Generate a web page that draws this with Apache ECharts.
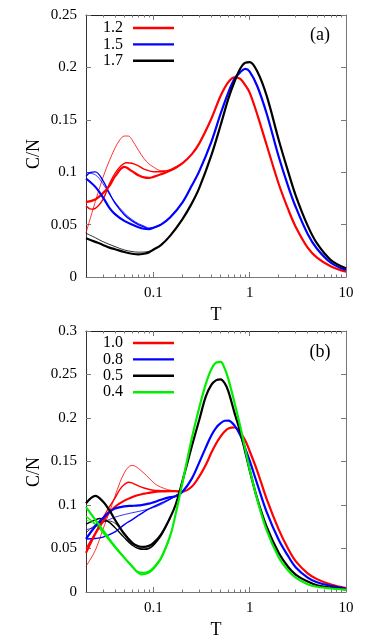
<!DOCTYPE html>
<html>
<head>
<meta charset="utf-8">
<script src="https://cdn.jsdelivr.net/npm/echarts@6/dist/echarts.min.js"></script>
<style>
  html, body { margin: 0; padding: 0; background: #fff; }
  #main { width: 374px; height: 642px; }
</style>
</head>
<body>
<div id="main"></div>
<script>
// ---- panel (a) ----
const Ta = [0.02, 0.025, 0.03, 0.035, 0.04, 0.05, 0.06, 0.07, 0.08, 0.09, 0.1, 0.12, 0.15, 0.2, 0.25, 0.3,
  0.4, 0.5, 0.6, 0.7, 0.8, 0.9, 1, 1.2, 1.5, 2, 2.5, 3, 4, 5, 7, 10]
const a12 = [0.0715, 0.074, 0.080, 0.087, 0.096, 0.105, 0.101, 0.097, 0.095, 0.0945, 0.0955, 0.098, 0.1015, 0.1085, 0.117, 0.1275,
  0.151, 0.173, 0.186, 0.1905, 0.189, 0.183, 0.176, 0.155, 0.126, 0.089, 0.065, 0.048, 0.028, 0.0185, 0.010, 0.005]
const a15 = [0.094, 0.086, 0.076, 0.066, 0.060, 0.0535, 0.050, 0.0475, 0.046, 0.0457, 0.047, 0.050, 0.057, 0.071, 0.087, 0.101,
  0.129, 0.156, 0.176, 0.1895, 0.1955, 0.1985, 0.196, 0.182, 0.156, 0.115, 0.087, 0.067, 0.041, 0.027, 0.0135, 0.0067]
const a17 = [0.037, 0.0335, 0.0306, 0.028, 0.0265, 0.0238, 0.0222, 0.0215, 0.0222, 0.0235, 0.026, 0.0305, 0.0395, 0.055, 0.070, 0.085,
  0.116, 0.145, 0.170, 0.187, 0.199, 0.2045, 0.205, 0.196, 0.173, 0.131, 0.101, 0.078, 0.049, 0.032, 0.016, 0.0083]

// thinner curves (a)
const Ta12m = [0.02, 0.0225, 0.025, 0.03, 0.035, 0.04, 0.045, 0.0525, 0.06, 0.07, 0.08, 0.1, 0.12, 0.15, 0.2]
const a12m = [0.068, 0.0648, 0.0655, 0.074, 0.089, 0.099, 0.105, 0.109, 0.1085, 0.106, 0.103, 0.1005, 0.1005, 0.1025, 0.1085]
const Ta12t = [0.02, 0.025, 0.03, 0.035, 0.04, 0.045, 0.05, 0.055, 0.06, 0.07, 0.08, 0.09, 0.1, 0.12, 0.15, 0.2]
const a12t = [0.042, 0.072, 0.095, 0.111, 0.123, 0.131, 0.1345, 0.1345, 0.131, 0.121, 0.113, 0.108, 0.105, 0.1015, 0.1015, 0.1085]
const Ta15m = [0.02, 0.022, 0.025, 0.03, 0.035, 0.04, 0.05, 0.06, 0.07, 0.08, 0.09, 0.1, 0.12]
const a15m = [0.096, 0.0995, 0.1003, 0.092, 0.080, 0.0705, 0.0595, 0.0535, 0.050, 0.0478, 0.0462, 0.047, 0.050]
const Ta15t = [0.02, 0.025, 0.03, 0.035, 0.04, 0.05, 0.06, 0.07, 0.08, 0.09, 0.1, 0.12]
const a15t = [0.0995, 0.0975, 0.089, 0.079, 0.0715, 0.061, 0.0548, 0.051, 0.0487, 0.0468, 0.047, 0.050]
const Ta17t = [0.02, 0.025, 0.03, 0.04, 0.05, 0.06, 0.07, 0.08, 0.09, 0.1, 0.12]
const a17t = [0.0417, 0.0375, 0.0337, 0.029, 0.0258, 0.0243, 0.0237, 0.0238, 0.0245, 0.0262, 0.0306]

// ---- panel (b) ----
const Tb = [0.02, 0.025, 0.03, 0.035, 0.04, 0.05, 0.06, 0.07, 0.08, 0.09, 0.1, 0.12, 0.15, 0.17, 0.2, 0.25, 0.3, 0.35,
  0.4, 0.45, 0.5, 0.55, 0.6, 0.7, 0.8, 0.9, 1, 1.2, 1.5, 2, 2.5, 3, 4, 5, 7, 10]
const b10 = [0.045, 0.067, 0.081, 0.0915, 0.098, 0.105, 0.109, 0.1115, 0.113, 0.114, 0.1148, 0.1155, 0.116, 0.1158, 0.1155, 0.121, 0.133, 0.146,
  0.160, 0.171, 0.179, 0.1845, 0.188, 0.1893, 0.183, 0.174, 0.162, 0.139, 0.107, 0.072, 0.050, 0.0355, 0.0215, 0.0148, 0.0085, 0.0045]
const b08 = [0.061, 0.0755, 0.085, 0.092, 0.096, 0.0985, 0.099, 0.0995, 0.1005, 0.1015, 0.103, 0.106, 0.109, 0.110, 0.115, 0.130, 0.149, 0.166,
  0.180, 0.189, 0.194, 0.1968, 0.197, 0.191, 0.180, 0.165, 0.151, 0.124, 0.092, 0.060, 0.0415, 0.0285, 0.0165, 0.0112, 0.0070, 0.004]
const b05 = [0.102, 0.1105, 0.104, 0.094, 0.083, 0.0665, 0.0565, 0.0525, 0.0518, 0.053, 0.0562, 0.066, 0.086, 0.100, 0.127, 0.167, 0.198, 0.2245,
  0.238, 0.2435, 0.2445, 0.240, 0.231, 0.205, 0.184, 0.161, 0.140, 0.107, 0.075, 0.045, 0.029, 0.0200, 0.012, 0.0078, 0.0050, 0.003]
const b04 = [0.0975, 0.083, 0.071, 0.0605, 0.052, 0.0395, 0.030, 0.0225, 0.022, 0.0235, 0.0276, 0.039, 0.065, 0.089, 0.125, 0.176, 0.212, 0.239,
  0.256, 0.2638, 0.2645, 0.257, 0.245, 0.2165, 0.190, 0.164, 0.141, 0.106, 0.071, 0.040, 0.025, 0.0165, 0.009, 0.006, 0.004, 0.0028]

// thinner curves (b)
const Tb10m = [0.02, 0.025, 0.03, 0.035, 0.04, 0.045, 0.05, 0.055, 0.06, 0.07, 0.08, 0.09, 0.1, 0.12, 0.15, 0.2]
const b10m = [0.050, 0.068, 0.085, 0.098, 0.108, 0.118, 0.1235, 0.1262, 0.1255, 0.122, 0.1195, 0.118, 0.117, 0.1165, 0.116, 0.1155]
const Tb10t = [0.02, 0.025, 0.03, 0.035, 0.04, 0.045, 0.05, 0.055, 0.06, 0.065, 0.07, 0.08, 0.09, 0.1, 0.11, 0.13, 0.15, 0.2]
const b10t = [0.0295, 0.048, 0.072, 0.092, 0.110, 0.126, 0.137, 0.1435, 0.1455, 0.1445, 0.142, 0.1366, 0.131, 0.126, 0.1225, 0.119, 0.117, 0.1155]
const Tb08m = [0.02, 0.025, 0.03, 0.04, 0.05, 0.06, 0.07, 0.08, 0.09, 0.1, 0.12, 0.15, 0.2]
const b08m = [0.061, 0.0615, 0.063, 0.069, 0.0775, 0.083, 0.088, 0.092, 0.0955, 0.098, 0.102, 0.107, 0.115]
const Tb08t = [0.02, 0.025, 0.03, 0.04, 0.05, 0.06, 0.08, 0.1, 0.12, 0.15, 0.2]
const b08t = [0.0715, 0.075, 0.080, 0.086, 0.089, 0.091, 0.094, 0.097, 0.1005, 0.1065, 0.115]
const Tb05m = [0.02, 0.025, 0.028, 0.03, 0.035, 0.04, 0.05, 0.06, 0.07, 0.08, 0.09, 0.1, 0.12, 0.15]
const b05m = [0.078, 0.083, 0.0845, 0.084, 0.080, 0.074, 0.0625, 0.054, 0.050, 0.049, 0.050, 0.0535, 0.0645, 0.085]
const Tb05t = [0.02, 0.025, 0.03, 0.035, 0.04, 0.05, 0.06, 0.07, 0.08, 0.09, 0.1, 0.12, 0.15]
const b05t = [0.068, 0.077, 0.081, 0.0815, 0.079, 0.068, 0.058, 0.0515, 0.0495, 0.0505, 0.054, 0.065, 0.0855]
const Tb04m = [0.02, 0.025, 0.03, 0.035, 0.04, 0.05, 0.06, 0.07, 0.075, 0.08, 0.09, 0.1, 0.12, 0.15]
const b04m = [0.087, 0.078, 0.068, 0.059, 0.051, 0.039, 0.029, 0.0215, 0.0199, 0.0202, 0.022, 0.026, 0.038, 0.064]
const Tb04t = [0.02, 0.025, 0.03, 0.035, 0.04, 0.05, 0.06, 0.07, 0.08, 0.09, 0.1, 0.12, 0.15]
const b04t = [0.083, 0.0775, 0.0695, 0.061, 0.053, 0.040, 0.0295, 0.022, 0.0205, 0.0225, 0.0265, 0.0385, 0.0645]

// ticks
const xMajor = [0.1, 1, 10]
const xMinor = [0.03, 0.04, 0.05, 0.06, 0.07, 0.08, 0.09, 0.2, 0.3, 0.4, 0.5, 0.6, 0.7, 0.8, 0.9, 2, 3, 4, 5, 6, 7, 8, 9]
const legendA = ['1.2', '1.5', '1.7']
const legendB = ['1.0', '0.8', '0.5', '0.4']

const FONT = 'Liberation Serif'
const RED = '#ff0000', BLUE = '#0000ff', BLACK = '#000000', GREEN = '#00ee00'
const grids = [
  { left: 86, top: 15, width: 260, height: 262 },
  { left: 86, top: 331, width: 260, height: 261 }
]

function pair(T, v) {
  return T.map((t, i) => [t, v[i]])
}

function xAxes(gi) {
  const base = {
    type: 'log', logBase: 10, min: 0.02, max: 10, gridIndex: gi,
    splitLine: { show: false }, axisLabel: { show: false }
  }
  return [
    Object.assign({}, base, {
      position: 'bottom',
      axisLine: { lineStyle: { color: '#777', width: 1 } },
      axisTick: { inside: true, length: 5, customValues: xMajor, lineStyle: { color: '#777' } },
      axisLabel: {
        show: true, customValues: xMajor, margin: 9,
        fontFamily: FONT, fontSize: 15, color: '#000',
        formatter: v => String(v)
      },
      name: 'T', nameLocation: 'middle', nameGap: 29,
      nameTextStyle: { fontFamily: FONT, fontSize: 18, color: '#000' }
    }),
    Object.assign({}, base, {
      position: 'bottom',
      axisLine: { show: false },
      axisTick: { inside: true, length: 2.5, customValues: xMinor, lineStyle: { color: '#777' } }
    }),
    Object.assign({}, base, {
      position: 'top',
      axisLine: { lineStyle: { color: '#222', width: 1 } },
      axisTick: { inside: true, length: 5, customValues: xMajor, lineStyle: { color: '#777' } }
    }),
    Object.assign({}, base, {
      position: 'top',
      axisLine: { show: false },
      axisTick: { inside: true, length: 2.5, customValues: xMinor, lineStyle: { color: '#777' } }
    })
  ]
}

function yAxes(gi, max) {
  return [
    {
      type: 'value', gridIndex: gi, position: 'left', min: 0, max: max, interval: 0.05,
      splitLine: { show: false },
      axisLine: { show: true, lineStyle: { color: '#333', width: 1 } },
      axisTick: { inside: true, length: 5, lineStyle: { color: '#777' } },
      axisLabel: { margin: 9, fontFamily: FONT, fontSize: 15, color: '#000' }
    },
    {
      type: 'value', gridIndex: gi, position: 'right', min: 0, max: max, interval: 0.05,
      splitLine: { show: false },
      axisLine: { show: true, lineStyle: { color: '#777', width: 1 } },
      axisTick: { inside: true, length: 5, lineStyle: { color: '#777' } },
      axisLabel: { show: false }
    }
  ]
}

function line(name, T, v, color, width, gi) {
  return {
    name: name,
    type: 'line',
    xAxisIndex: gi * 4,
    yAxisIndex: gi * 2,
    data: pair(T, v),
    showSymbol: false,
    symbol: 'none',
    smooth: 0.35,
    lineStyle: { color: color, width: width },
    itemStyle: { color: color },
    z: width > 2 ? 3 : 2
  }
}

function legend(names, top) {
  return {
    data: names,
    orient: 'vertical',
    align: 'right',
    right: 200,
    top: top,
    padding: 0,
    itemWidth: 41,
    itemHeight: 2.4,
    itemGap: 0.4,
    icon: 'rect',
    selectedMode: false,
    textStyle: { fontFamily: FONT, fontSize: 16, color: '#000', lineHeight: 15, padding: [0, 5, 0, 0] }
  }
}

const THICK = 2.2, MED = 1.4, THIN = 0.8

const chart = echarts.init(document.getElementById('main'))
chart.setOption({
  animation: false,
  backgroundColor: '#fff',
  grid: grids,
  xAxis: xAxes(0).concat(xAxes(1)),
  yAxis: yAxes(0, 0.25).concat(yAxes(1, 0.3)),
  legend: [legend(legendA, 20), legend(legendB, 335)],
  graphic: [
    { type: 'text', x: 34, y: 154, rotation: Math.PI / 2,
      style: { text: 'C/N', fontFamily: FONT, fontSize: 18, fill: '#000', align: 'center', verticalAlign: 'middle' } },
    { type: 'text', x: 34, y: 472, rotation: Math.PI / 2,
      style: { text: 'C/N', fontFamily: FONT, fontSize: 18, fill: '#000', align: 'center', verticalAlign: 'middle' } },
    { type: 'text', x: 320, y: 35,
      style: { text: '(a)', fontFamily: FONT, fontSize: 18, fill: '#000', align: 'center', verticalAlign: 'middle' } },
    { type: 'text', x: 320, y: 352,
      style: { text: '(b)', fontFamily: FONT, fontSize: 18, fill: '#000', align: 'center', verticalAlign: 'middle' } }
  ],
  series: [
    // (a) thin
    line('1.2 m', Ta12m, a12m, RED, MED, 0),
    line('1.2 t', Ta12t, a12t, RED, THIN, 0),
    line('1.5 m', Ta15m, a15m, BLUE, MED, 0),
    line('1.5 t', Ta15t, a15t, BLUE, THIN, 0),
    line('1.7 t', Ta17t, a17t, BLACK, THIN, 0),
    // (a) thick
    line('1.2', Ta, a12, RED, THICK, 0),
    line('1.5', Ta, a15, BLUE, THICK, 0),
    line('1.7', Ta, a17, BLACK, THICK, 0),
    // (b) thin
    line('1.0 m', Tb10m, b10m, RED, MED, 1),
    line('1.0 t', Tb10t, b10t, RED, THIN, 1),
    line('0.8 m', Tb08m, b08m, BLUE, MED, 1),
    line('0.8 t', Tb08t, b08t, BLUE, THIN, 1),
    line('0.5 m', Tb05m, b05m, BLACK, MED, 1),
    line('0.5 t', Tb05t, b05t, BLACK, THIN, 1),
    line('0.4 m', Tb04m, b04m, GREEN, MED, 1),
    line('0.4 t', Tb04t, b04t, GREEN, THIN, 1),
    // (b) thick
    line('1.0', Tb, b10, RED, THICK, 1),
    line('0.8', Tb, b08, BLUE, THICK, 1),
    line('0.5', Tb, b05, BLACK, THICK, 1),
    line('0.4', Tb, b04, GREEN, THICK, 1)
  ]
})
</script>
</body>
</html>
